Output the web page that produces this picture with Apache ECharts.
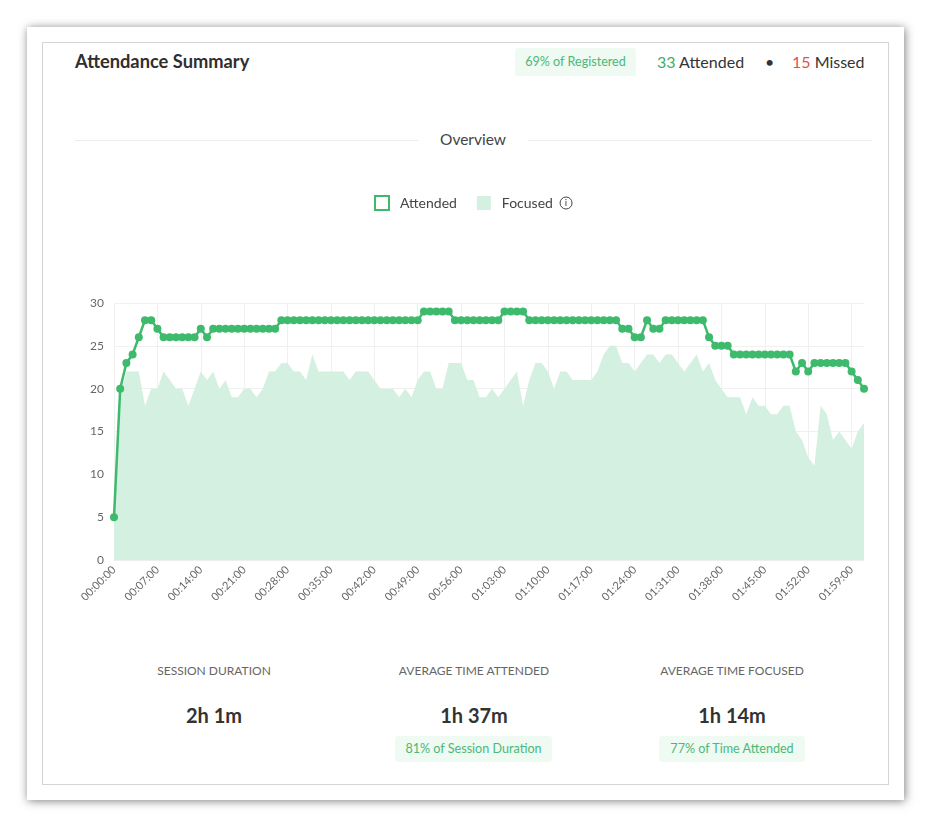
<!DOCTYPE html>
<html>
<head>
<meta charset="utf-8">
<script src="https://cdn.jsdelivr.net/npm/echarts@6/dist/echarts.min.js"></script>
<style>
  html, body { margin: 0; padding: 0; background: #fff; }
  body { width: 931px; height: 827px; position: relative; font-family: Lato, "Open Sans", sans-serif; color: #333; }
  .card { position: absolute; left: 27px; top: 27px; width: 877px; height: 773px; background: #fff;
          box-shadow: 1px 1px 9px rgba(0,0,0,0.5); }
  .frame { position: absolute; left: 42px; top: 42px; width: 845px; height: 741px; border: 1px solid #d4d4d4; }
  .abs { position: absolute; white-space: nowrap; }
  .title { left: 75px; top: 50px; font-size: 18.3px; font-weight: 700; color: #2f2f2f; }
  .badge { background: #eefaf2; color: #4cb877; font-size: 12.6px; border-radius: 3px; text-align: center; }
  .head { top: 52px; font-size: 16px; color: #333; }
  .green { color: #3fae6a; }
  .red { color: #e0534a; }
  .rule { position: absolute; height: 1px; background: #ececec; top: 140px; }
  .overview { left: 440px; top: 130px; font-size: 15.5px; color: #444; }
  .stat-label { top: 663px; font-size: 12px; color: #666; width: 240px; text-align: center; }
  .stat-value { top: 703px; font-size: 20px; font-weight: 700; color: #333; width: 240px; text-align: center; }
  #chart { position: absolute; left: 42px; top: 180px; width: 847px; height: 450px; }
</style>
</head>
<body>
<div class="card"></div>
<div class="frame"></div>

<div class="abs title">Attendance Summary</div>
<div class="abs badge" style="left:515px;top:48px;width:121px;height:28px;line-height:28px;">69% of Registered</div>
<div class="abs head" style="left:657px;"><span class="green">33</span> Attended</div>
<div class="abs head" style="left:765px;">&bull;</div>
<div class="abs head" style="left:792px;"><span class="red">15</span> Missed</div>

<div class="rule" style="left:75px;width:343px;"></div>
<div class="rule" style="left:528px;width:344px;"></div>
<div class="abs overview">Overview</div>

<div id="chart"></div>

<div class="abs stat-label" style="left:94px;">SESSION DURATION</div>
<div class="abs stat-value" style="left:94px;">2h 1m</div>

<div class="abs stat-label" style="left:354px;">AVERAGE TIME ATTENDED</div>
<div class="abs stat-value" style="left:354px;">1h 37m</div>
<div class="abs badge" style="left:395px;top:736px;width:157px;height:26px;line-height:26px;">81% of Session Duration</div>

<div class="abs stat-label" style="left:612px;">AVERAGE TIME FOCUSED</div>
<div class="abs stat-value" style="left:612px;">1h 14m</div>
<div class="abs badge" style="left:659px;top:736px;width:146px;height:26px;line-height:26px;">77% of Time Attended</div>

<script>
// minutes into the session, one point per minute (0 .. 121)
var minuteCount = 122;
var minuteLabels = [];
for (var m = 0; m < minuteCount; m++) {
    var hh = Math.floor(m / 60), mm = m % 60;
    minuteLabels.push((hh < 10 ? '0' : '') + hh + ':' + (mm < 10 ? '0' : '') + mm + ':00');
}

var attended = [
    5, 20, 23, 24, 26, 28, 28, 27,
    26, 26, 26, 26, 26, 26, 27, 26,
    27, 27, 27, 27, 27, 27, 27, 27, 27, 27, 27,
    28, 28, 28, 28, 28, 28, 28, 28, 28, 28, 28, 28, 28, 28, 28, 28, 28, 28, 28, 28, 28, 28, 28,
    29, 29, 29, 29, 29,
    28, 28, 28, 28, 28, 28, 28, 28,
    29, 29, 29, 29,
    28, 28, 28, 28, 28, 28, 28, 28, 28, 28, 28, 28, 28, 28, 28,
    27, 27, 26, 26, 28, 27, 27,
    28, 28, 28, 28, 28, 28, 28,
    26, 25, 25, 25,
    24, 24, 24, 24, 24, 24, 24, 24, 24, 24,
    22, 23, 22, 23, 23, 23, 23, 23, 23, 22, 21, 20
];

var focused = [
    5, 19, 22, 22, 22, 18, 20, 20, 22, 21,
    20, 20, 18, 20, 22, 21, 22, 20, 21, 19,
    19, 20, 20, 19, 20, 22, 22, 23, 23, 22,
    22, 21, 24, 22, 22, 22, 22, 22, 21, 22,
    22, 22, 21, 20, 20, 20, 19, 20, 19, 21,
    22, 22, 20, 20, 23, 23, 23, 21, 21, 19,
    19, 20, 19, 20, 21, 22, 18, 21, 23, 23,
    22, 20, 22, 22, 21, 21, 21, 21, 22, 24,
    25, 25, 23, 23, 22, 23, 24, 24, 23, 24,
    24, 23, 22, 23, 24, 22, 23, 21, 20, 19,
    19, 19, 17, 19, 18, 18, 17, 17, 18, 18,
    15, 14, 12, 11, 18, 17, 14, 15, 14, 13, 15, 16
];

var yTicks = [0, 5, 10, 15, 20, 25, 30];

var green = '#3dba6c';
var mint = '#d4f0e0';

var chart = echarts.init(document.getElementById('chart'));
chart.setOption({
    animation: false,
    textStyle: { fontFamily: 'Lato' },
    legend: {
        left: 332,
        top: 15,
        padding: 0,
        itemWidth: 14,
        itemHeight: 14,
        itemGap: 20,
        textStyle: { fontSize: 14, color: '#444', fontFamily: 'Lato', padding: [0, 0, 0, 6],
            rich: { i: { width: 12, height: 12, lineHeight: 12, align: 'center', fontSize: 10, color: '#444',
                         borderColor: '#444', borderWidth: 1, borderRadius: 7 } } },
        formatter: function (name) {
            return name === 'Focused' ? name + '  {i|i}' : name;
        },
        data: [
            { name: 'Attended', icon: 'rect', itemStyle: { color: '#fff', borderColor: green, borderWidth: 2 } },
            { name: 'Focused', icon: 'rect', itemStyle: { color: mint, borderWidth: 0 } }
        ]
    },
    grid: { left: 72, right: 25, top: 123, bottom: 70, containLabel: false },
    xAxis: {
        type: 'category',
        boundaryGap: false,
        data: minuteLabels,
        axisLine: { show: true, lineStyle: { color: '#eeeeee' } },
        axisTick: { show: false },
        axisLabel: { interval: 6, rotate: 45, fontSize: 11, color: '#666', margin: 8 },
        splitLine: { show: true, interval: 6, lineStyle: { color: '#f0f0f0' } }
    },
    yAxis: {
        type: 'value',
        min: yTicks[0],
        max: yTicks[yTicks.length - 1],
        interval: 5,
        axisLine: { show: false },
        axisTick: { show: false },
        axisLabel: { fontSize: 12, color: '#666', margin: 10 },
        splitLine: { lineStyle: { color: '#f0f0f0' } }
    },
    series: [
        {
            name: 'Focused',
            type: 'line',
            data: focused,
            symbol: 'none',
            lineStyle: { width: 0 },
            itemStyle: { color: mint },
            areaStyle: { color: mint, opacity: 1 },
            z: 1
        },
        {
            name: 'Attended',
            type: 'line',
            data: attended,
            symbol: 'circle',
            symbolSize: 8,
            showAllSymbol: true,
            lineStyle: { width: 2.5, color: green },
            itemStyle: { color: green },
            z: 3
        }
    ]
});
</script>
</body>
</html>
